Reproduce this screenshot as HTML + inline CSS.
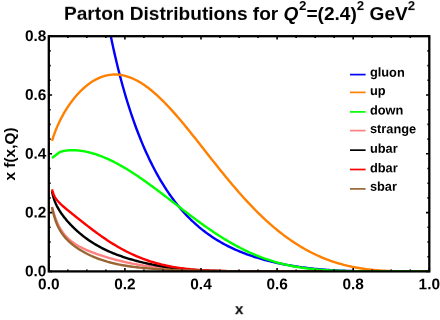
<!DOCTYPE html>
<html><head><meta charset="utf-8"><style>html,body{margin:0;padding:0;background:#fff;width:440px;height:320px;overflow:hidden}</style></head><body><svg width="440" height="320" viewBox="0 0 440 320" style="position:absolute;left:0;top:0">
<defs><clipPath id="c"><rect x="48.8" y="36.2" width="380.50" height="235.90"/></clipPath></defs>
<rect width="440" height="320" fill="#fff"/>
<g clip-path="url(#c)" fill="none" stroke-width="2.4" stroke-linejoin="round" stroke-linecap="butt">
<path d="M84.65,-199.67 L85.09,-191.93 L85.53,-184.45 L85.97,-177.23 L86.41,-170.24 L86.85,-163.49 L88.41,-141.21 L89.97,-121.19 L91.54,-103.08 L93.10,-86.59 L94.66,-71.47 L96.22,-57.55 L97.78,-44.65 L99.35,-32.65 L100.91,-21.45 L102.47,-10.93 L104.03,-1.04 L105.59,8.30 L107.16,17.14 L108.72,25.53 L110.28,33.52 L111.84,41.14 L113.40,48.42 L114.97,55.38 L116.53,62.06 L118.09,68.47 L119.65,74.63 L121.21,80.56 L122.78,86.27 L124.34,91.78 L125.90,97.10 L127.46,102.24 L129.02,107.20 L130.58,112.00 L132.15,116.64 L133.71,121.14 L135.27,125.49 L136.83,129.71 L138.39,133.80 L139.96,137.76 L141.52,141.61 L143.08,145.34 L144.64,148.95 L146.20,152.46 L147.77,155.87 L149.33,159.18 L150.89,162.39 L152.45,165.51 L154.01,168.54 L155.58,171.48 L157.14,174.34 L158.70,177.11 L160.26,179.81 L161.82,182.43 L163.39,184.97 L164.95,187.44 L166.51,189.84 L168.07,192.18 L169.63,194.45 L171.20,196.65 L172.76,198.79 L174.32,200.88 L175.88,202.90 L177.44,204.87 L179.01,206.78 L180.57,208.64 L182.13,210.44 L183.69,212.20 L185.25,213.90 L186.82,215.56 L188.38,217.18 L189.94,218.75 L191.50,220.27 L193.06,221.75 L194.63,223.19 L196.19,224.60 L197.75,225.96 L199.31,227.29 L200.87,228.57 L202.44,229.83 L204.00,231.05 L205.56,232.23 L207.12,233.39 L208.68,234.51 L210.24,235.60 L211.81,236.66 L213.37,237.70 L214.93,238.70 L216.49,239.68 L218.05,240.63 L219.62,241.56 L221.18,242.46 L222.74,243.34 L224.30,244.19 L225.86,245.02 L227.43,245.83 L228.99,246.62 L230.55,247.38 L232.11,248.13 L233.67,248.86 L235.24,249.56 L236.80,250.25 L238.36,250.92 L239.92,251.58 L241.48,252.21 L243.05,252.83 L244.61,253.43 L246.17,254.02 L247.73,254.59 L249.29,255.15 L250.86,255.69 L252.42,256.22 L253.98,256.74 L255.54,257.24 L257.10,257.73 L258.67,258.20 L260.23,258.66 L261.79,259.11 L263.35,259.55 L264.91,259.98 L266.48,260.40 L268.04,260.80 L269.60,261.20 L271.16,261.58 L272.72,261.95 L274.29,262.32 L275.85,262.67 L277.41,263.01 L278.97,263.35 L280.53,263.68 L282.10,263.99 L283.66,264.30 L285.22,264.60 L286.78,264.89 L288.34,265.17 L289.90,265.44 L291.47,265.71 L293.03,265.97 L294.59,266.22 L296.15,266.46 L297.71,266.70 L299.28,266.92 L300.84,267.15 L302.40,267.36 L303.96,267.56 L305.52,267.76 L307.09,267.96 L308.65,268.14 L310.21,268.32 L311.77,268.50 L313.33,268.66 L314.90,268.82 L316.46,268.98 L318.02,269.12 L319.58,269.27 L321.14,269.40 L322.71,269.53 L324.27,269.66 L325.83,269.77 L327.39,269.89 L328.95,270.00 L330.52,270.10 L332.08,270.20 L333.64,270.29 L335.20,270.38 L336.76,270.46 L338.33,270.54 L339.89,270.61 L341.45,270.68 L343.01,270.75 L344.57,270.81 L346.14,270.86 L347.70,270.92 L349.26,270.96 L350.82,271.01 L352.38,271.05 L353.95,271.09 L355.51,271.12 L357.07,271.16 L358.63,271.19 L360.19,271.21 L361.76,271.24 L363.32,271.26 L364.88,271.28 L366.44,271.30 L368.00,271.31 L369.56,271.32 L371.13,271.34 L372.69,271.35 L374.25,271.36 L375.81,271.36 L377.37,271.37 L378.94,271.38 L380.50,271.38 L382.06,271.38 L383.62,271.39 L385.18,271.39 L386.75,271.39 L388.31,271.39 L389.87,271.40 L391.43,271.40 L392.99,271.40 L394.56,271.40 L396.12,271.40 L397.68,271.40 L399.24,271.40 L400.80,271.40 L402.37,271.40 L403.93,271.40 L405.49,271.40 L407.05,271.40 L408.61,271.40 L410.18,271.40 L411.74,271.40 L413.30,271.40 L414.86,271.40 L416.42,271.40 L417.99,271.40 L419.55,271.40 L421.11,271.40 L422.67,271.40 L424.23,271.40 L425.80,271.40 L427.36,271.40 L428.92,271.40 L429.30,271.40" stroke="#0000ff"/>
<path d="M52.03,140.79 L52.47,139.39 L52.92,138.03 L53.36,136.71 L53.80,135.43 L54.24,134.18 L54.68,132.98 L55.12,131.80 L55.56,130.66 L56.00,129.55 L56.44,128.47 L56.88,127.41 L57.32,126.38 L57.76,125.37 L58.20,124.39 L58.64,123.42 L59.09,122.48 L59.53,121.56 L59.97,120.65 L60.41,119.76 L60.85,118.89 L61.29,118.03 L61.73,117.19 L62.17,116.37 L62.61,115.56 L63.05,114.76 L63.49,113.98 L63.93,113.21 L64.37,112.45 L64.81,111.70 L65.26,110.97 L65.70,110.25 L66.14,109.54 L66.58,108.84 L67.02,108.15 L67.46,107.47 L67.90,106.80 L68.34,106.14 L68.78,105.49 L69.22,104.85 L69.66,104.22 L70.10,103.59 L70.54,102.98 L70.98,102.37 L71.43,101.78 L71.87,101.19 L72.31,100.61 L72.75,100.04 L73.19,99.47 L73.63,98.92 L74.07,98.37 L74.51,97.83 L74.95,97.29 L75.39,96.77 L75.83,96.25 L76.27,95.74 L76.71,95.24 L77.15,94.74 L77.60,94.25 L78.04,93.77 L78.48,93.29 L78.92,92.82 L79.36,92.36 L79.80,91.90 L80.24,91.45 L80.68,91.01 L81.12,90.57 L81.56,90.14 L82.00,89.72 L82.44,89.30 L82.88,88.89 L83.32,88.49 L83.77,88.09 L84.21,87.70 L84.65,87.31 L85.09,86.94 L85.53,86.56 L85.97,86.20 L86.41,85.83 L86.85,85.48 L88.41,84.27 L89.97,83.13 L91.54,82.07 L93.10,81.08 L94.66,80.17 L96.22,79.32 L97.78,78.55 L99.35,77.84 L100.91,77.21 L102.47,76.64 L104.03,76.14 L105.59,75.71 L107.16,75.35 L108.72,75.05 L110.28,74.82 L111.84,74.66 L113.40,74.56 L114.97,74.53 L116.53,74.56 L118.09,74.66 L119.65,74.81 L121.21,75.03 L122.78,75.32 L124.34,75.66 L125.90,76.06 L127.46,76.53 L129.02,77.05 L130.58,77.63 L132.15,78.27 L133.71,78.96 L135.27,79.71 L136.83,80.51 L138.39,81.37 L139.96,82.27 L141.52,83.23 L143.08,84.24 L144.64,85.30 L146.20,86.41 L147.77,87.56 L149.33,88.76 L150.89,90.00 L152.45,91.29 L154.01,92.61 L155.58,93.98 L157.14,95.39 L158.70,96.84 L160.26,98.32 L161.82,99.84 L163.39,101.39 L164.95,102.97 L166.51,104.59 L168.07,106.24 L169.63,107.91 L171.20,109.62 L172.76,111.35 L174.32,113.10 L175.88,114.88 L177.44,116.68 L179.01,118.50 L180.57,120.35 L182.13,122.21 L183.69,124.08 L185.25,125.98 L186.82,127.88 L188.38,129.80 L189.94,131.74 L191.50,133.68 L193.06,135.63 L194.63,137.59 L196.19,139.56 L197.75,141.53 L199.31,143.51 L200.87,145.50 L202.44,147.48 L204.00,149.47 L205.56,151.46 L207.12,153.44 L208.68,155.43 L210.24,157.41 L211.81,159.39 L213.37,161.37 L214.93,163.34 L216.49,165.30 L218.05,167.25 L219.62,169.20 L221.18,171.14 L222.74,173.07 L224.30,174.99 L225.86,176.90 L227.43,178.79 L228.99,180.68 L230.55,182.55 L232.11,184.41 L233.67,186.25 L235.24,188.07 L236.80,189.89 L238.36,191.68 L239.92,193.46 L241.48,195.22 L243.05,196.97 L244.61,198.69 L246.17,200.40 L247.73,202.09 L249.29,203.76 L250.86,205.41 L252.42,207.03 L253.98,208.64 L255.54,210.23 L257.10,211.80 L258.67,213.35 L260.23,214.87 L261.79,216.38 L263.35,217.86 L264.91,219.32 L266.48,220.76 L268.04,222.18 L269.60,223.57 L271.16,224.94 L272.72,226.29 L274.29,227.62 L275.85,228.92 L277.41,230.20 L278.97,231.46 L280.53,232.70 L282.10,233.91 L283.66,235.11 L285.22,236.27 L286.78,237.42 L288.34,238.54 L289.90,239.64 L291.47,240.72 L293.03,241.78 L294.59,242.81 L296.15,243.83 L297.71,244.82 L299.28,245.78 L300.84,246.73 L302.40,247.65 L303.96,248.56 L305.52,249.44 L307.09,250.30 L308.65,251.14 L310.21,251.96 L311.77,252.75 L313.33,253.53 L314.90,254.29 L316.46,255.02 L318.02,255.74 L319.58,256.44 L321.14,257.11 L322.71,257.77 L324.27,258.41 L325.83,259.03 L327.39,259.63 L328.95,260.21 L330.52,260.77 L332.08,261.32 L333.64,261.84 L335.20,262.35 L336.76,262.84 L338.33,263.32 L339.89,263.77 L341.45,264.21 L343.01,264.64 L344.57,265.04 L346.14,265.44 L347.70,265.81 L349.26,266.17 L350.82,266.51 L352.38,266.84 L353.95,267.16 L355.51,267.46 L357.07,267.75 L358.63,268.02 L360.19,268.28 L361.76,268.52 L363.32,268.75 L364.88,268.97 L366.44,269.18 L368.00,269.37 L369.56,269.56 L371.13,269.73 L372.69,269.89 L374.25,270.04 L375.81,270.18 L377.37,270.31 L378.94,270.43 L380.50,270.54 L382.06,270.64 L383.62,270.73 L385.18,270.82 L386.75,270.90 L388.31,270.97 L389.87,271.03 L391.43,271.08 L392.99,271.13 L394.56,271.18 L396.12,271.22 L397.68,271.25 L399.24,271.28 L400.80,271.30 L402.37,271.32 L403.93,271.34 L405.49,271.35 L407.05,271.37 L408.61,271.38 L410.18,271.38 L411.74,271.39 L413.30,271.39 L414.86,271.40 L416.42,271.40 L417.99,271.40 L419.55,271.40 L421.11,271.40 L422.67,271.40 L424.23,271.40 L425.80,271.40 L427.36,271.40 L428.92,271.40 L429.30,271.40" stroke="#ff8000"/>
<path d="M52.03,157.93 L59.53,152.22 L59.97,152.06 L60.41,151.91 L60.85,151.76 L61.29,151.63 L61.73,151.50 L62.17,151.38 L62.61,151.27 L63.05,151.16 L63.49,151.07 L63.93,150.97 L64.37,150.89 L64.81,150.81 L65.26,150.73 L65.70,150.66 L66.14,150.60 L66.58,150.54 L67.02,150.49 L67.46,150.44 L67.90,150.40 L68.34,150.36 L68.78,150.32 L69.22,150.29 L69.66,150.27 L70.10,150.24 L70.54,150.23 L70.98,150.21 L71.43,150.20 L71.87,150.19 L72.31,150.19 L72.75,150.19 L73.19,150.20 L73.63,150.21 L74.07,150.22 L74.51,150.23 L74.95,150.25 L75.39,150.27 L75.83,150.30 L76.27,150.32 L76.71,150.36 L77.15,150.39 L77.60,150.43 L78.04,150.47 L78.48,150.51 L78.92,150.56 L79.36,150.61 L79.80,150.66 L80.24,150.71 L80.68,150.77 L81.12,150.83 L81.56,150.90 L82.00,150.96 L82.44,151.03 L82.88,151.10 L83.32,151.18 L83.77,151.26 L84.21,151.34 L84.65,151.42 L85.09,151.50 L85.53,151.59 L85.97,151.68 L86.41,151.77 L86.85,151.87 L88.41,152.23 L89.97,152.62 L91.54,153.04 L93.10,153.48 L94.66,153.96 L96.22,154.46 L97.78,154.99 L99.35,155.55 L100.91,156.14 L102.47,156.74 L104.03,157.38 L105.59,158.04 L107.16,158.72 L108.72,159.43 L110.28,160.15 L111.84,160.91 L113.40,161.68 L114.97,162.47 L116.53,163.29 L118.09,164.12 L119.65,164.98 L121.21,165.85 L122.78,166.75 L124.34,167.66 L125.90,168.59 L127.46,169.53 L129.02,170.49 L130.58,171.47 L132.15,172.47 L133.71,173.48 L135.27,174.50 L136.83,175.54 L138.39,176.59 L139.96,177.65 L141.52,178.73 L143.08,179.82 L144.64,180.92 L146.20,182.03 L147.77,183.15 L149.33,184.28 L150.89,185.41 L152.45,186.56 L154.01,187.72 L155.58,188.88 L157.14,190.05 L158.70,191.22 L160.26,192.40 L161.82,193.58 L163.39,194.77 L164.95,195.97 L166.51,197.16 L168.07,198.36 L169.63,199.56 L171.20,200.76 L172.76,201.97 L174.32,203.17 L175.88,204.38 L177.44,205.58 L179.01,206.78 L180.57,207.98 L182.13,209.18 L183.69,210.37 L185.25,211.57 L186.82,212.75 L188.38,213.94 L189.94,215.12 L191.50,216.29 L193.06,217.46 L194.63,218.62 L196.19,219.77 L197.75,220.92 L199.31,222.06 L200.87,223.19 L202.44,224.31 L204.00,225.42 L205.56,226.53 L207.12,227.62 L208.68,228.71 L210.24,229.78 L211.81,230.84 L213.37,231.89 L214.93,232.93 L216.49,233.96 L218.05,234.98 L219.62,235.98 L221.18,236.97 L222.74,237.95 L224.30,238.91 L225.86,239.86 L227.43,240.79 L228.99,241.71 L230.55,242.62 L232.11,243.51 L233.67,244.39 L235.24,245.25 L236.80,246.10 L238.36,246.93 L239.92,247.75 L241.48,248.55 L243.05,249.33 L244.61,250.10 L246.17,250.85 L247.73,251.59 L249.29,252.31 L250.86,253.02 L252.42,253.71 L253.98,254.38 L255.54,255.04 L257.10,255.68 L258.67,256.30 L260.23,256.91 L261.79,257.50 L263.35,258.08 L264.91,258.64 L266.48,259.19 L268.04,259.72 L269.60,260.23 L271.16,260.73 L272.72,261.22 L274.29,261.69 L275.85,262.14 L277.41,262.58 L278.97,263.01 L280.53,263.42 L282.10,263.82 L283.66,264.20 L285.22,264.57 L286.78,264.92 L288.34,265.27 L289.90,265.60 L291.47,265.91 L293.03,266.22 L294.59,266.51 L296.15,266.79 L297.71,267.06 L299.28,267.31 L300.84,267.56 L302.40,267.79 L303.96,268.02 L305.52,268.23 L307.09,268.43 L308.65,268.63 L310.21,268.81 L311.77,268.98 L313.33,269.15 L314.90,269.31 L316.46,269.45 L318.02,269.60 L319.58,269.73 L321.14,269.85 L322.71,269.97 L324.27,270.08 L325.83,270.19 L327.39,270.28 L328.95,270.37 L330.52,270.46 L332.08,270.54 L333.64,270.61 L335.20,270.68 L336.76,270.75 L338.33,270.81 L339.89,270.86 L341.45,270.91 L343.01,270.96 L344.57,271.01 L346.14,271.05 L347.70,271.08 L349.26,271.12 L350.82,271.15 L352.38,271.17 L353.95,271.20 L355.51,271.22 L357.07,271.24 L358.63,271.26 L360.19,271.28 L361.76,271.30 L363.32,271.31 L364.88,271.32 L366.44,271.33 L368.00,271.34 L369.56,271.35 L371.13,271.36 L372.69,271.36 L374.25,271.37 L375.81,271.37 L377.37,271.38 L378.94,271.38 L380.50,271.39 L382.06,271.39 L383.62,271.39 L385.18,271.39 L386.75,271.39 L388.31,271.40 L389.87,271.40 L391.43,271.40 L392.99,271.40 L394.56,271.40 L396.12,271.40 L397.68,271.40 L399.24,271.40 L400.80,271.40 L402.37,271.40 L403.93,271.40 L405.49,271.40 L407.05,271.40 L408.61,271.40 L410.18,271.40 L411.74,271.40 L413.30,271.40 L414.86,271.40 L416.42,271.40 L417.99,271.40 L419.55,271.40 L421.11,271.40 L422.67,271.40 L424.23,271.40 L425.80,271.40 L427.36,271.40 L428.92,271.40 L429.30,271.40" stroke="#00ff00"/>
<path d="M52.03,207.79 L52.47,209.17 L52.92,210.59 L53.36,212.00 L53.80,213.38 L54.24,214.73 L54.68,216.03 L55.12,217.28 L55.56,218.48 L56.00,219.63 L56.44,220.73 L56.88,221.79 L57.32,222.80 L57.76,223.77 L58.20,224.70 L58.64,225.59 L59.09,226.44 L59.53,227.26 L59.97,228.05 L60.41,228.80 L60.85,229.53 L61.29,230.23 L61.73,230.90 L62.17,231.55 L62.61,232.17 L63.05,232.78 L63.49,233.36 L63.93,233.92 L64.37,234.47 L64.81,235.00 L65.26,235.51 L65.70,236.00 L66.14,236.48 L66.58,236.95 L67.02,237.40 L67.46,237.84 L67.90,238.27 L68.34,238.68 L68.78,239.09 L69.22,239.48 L69.66,239.86 L70.10,240.24 L70.54,240.60 L70.98,240.96 L71.43,241.31 L71.87,241.65 L72.31,241.98 L72.75,242.30 L73.19,242.62 L73.63,242.93 L74.07,243.23 L74.51,243.53 L74.95,243.82 L75.39,244.11 L75.83,244.39 L76.27,244.67 L76.71,244.94 L77.15,245.20 L77.60,245.47 L78.04,245.72 L78.48,245.98 L78.92,246.22 L79.36,246.47 L79.80,246.71 L80.24,246.94 L80.68,247.18 L81.12,247.41 L81.56,247.63 L82.00,247.86 L82.44,248.08 L82.88,248.29 L83.32,248.51 L83.77,248.72 L84.21,248.93 L84.65,249.13 L85.09,249.33 L85.53,249.54 L85.97,249.73 L86.41,249.93 L86.85,250.12 L88.41,250.79 L89.97,251.44 L91.54,252.06 L93.10,252.66 L94.66,253.24 L96.22,253.81 L97.78,254.36 L99.35,254.89 L100.91,255.41 L102.47,255.92 L104.03,256.41 L105.59,256.89 L107.16,257.37 L108.72,257.83 L110.28,258.28 L111.84,258.71 L113.40,259.14 L114.97,259.56 L116.53,259.97 L118.09,260.37 L119.65,260.76 L121.21,261.14 L122.78,261.52 L124.34,261.88 L125.90,262.23 L127.46,262.58 L129.02,262.92 L130.58,263.24 L132.15,263.56 L133.71,263.87 L135.27,264.17 L136.83,264.47 L138.39,264.75 L139.96,265.03 L141.52,265.29 L143.08,265.55 L144.64,265.81 L146.20,266.05 L147.77,266.28 L149.33,266.51 L150.89,266.73 L152.45,266.94 L154.01,267.15 L155.58,267.35 L157.14,267.54 L158.70,267.72 L160.26,267.90 L161.82,268.07 L163.39,268.23 L164.95,268.38 L166.51,268.53 L168.07,268.68 L169.63,268.82 L171.20,268.95 L172.76,269.08 L174.32,269.20 L175.88,269.31 L177.44,269.42 L179.01,269.53 L180.57,269.63 L182.13,269.73 L183.69,269.82 L185.25,269.90 L186.82,269.99 L188.38,270.07 L189.94,270.14 L191.50,270.21 L193.06,270.28 L194.63,270.35 L196.19,270.41 L197.75,270.46 L199.31,270.52 L200.87,270.57 L202.44,270.62 L204.00,270.67 L205.56,270.71 L207.12,270.75 L208.68,270.79 L210.24,270.83 L211.81,270.86 L213.37,270.90 L214.93,270.93 L216.49,270.96 L218.05,270.99 L219.62,271.01 L221.18,271.04 L222.74,271.06 L224.30,271.08 L225.86,271.10 L227.43,271.12 L228.99,271.14 L230.55,271.16 L232.11,271.17 L233.67,271.19 L235.24,271.20 L236.80,271.21 L238.36,271.23 L239.92,271.24 L241.48,271.25 L243.05,271.26 L244.61,271.27 L246.17,271.28 L247.73,271.29 L249.29,271.29 L250.86,271.30 L252.42,271.31 L253.98,271.31 L255.54,271.32 L257.10,271.33 L258.67,271.33 L260.23,271.34 L261.79,271.34 L263.35,271.34 L264.91,271.35 L266.48,271.35 L268.04,271.35 L269.60,271.36 L271.16,271.36 L272.72,271.36 L274.29,271.37 L275.85,271.37 L277.41,271.37 L278.97,271.37 L280.53,271.37 L282.10,271.38 L283.66,271.38 L285.22,271.38 L286.78,271.38 L288.34,271.38 L289.90,271.38 L291.47,271.39 L293.03,271.39 L294.59,271.39 L296.15,271.39 L297.71,271.39 L299.28,271.39 L300.84,271.39 L302.40,271.39 L303.96,271.39 L305.52,271.39 L307.09,271.39 L308.65,271.39 L310.21,271.39 L311.77,271.39 L313.33,271.39 L314.90,271.40 L316.46,271.40 L318.02,271.40 L319.58,271.40 L321.14,271.40 L322.71,271.40" stroke="#ff8080"/>
<path d="M52.03,191.20 L52.47,193.37 L52.92,195.25 L53.36,196.91 L53.80,198.39 L54.24,199.73 L54.68,200.96 L55.12,202.10 L55.56,203.16 L56.00,204.16 L56.44,205.10 L56.88,206.00 L57.32,206.85 L57.76,207.67 L58.20,208.45 L58.64,209.21 L59.09,209.95 L59.53,210.66 L59.97,211.35 L60.41,212.02 L60.85,212.68 L61.29,213.32 L61.73,213.95 L62.17,214.56 L62.61,215.16 L63.05,215.76 L63.49,216.34 L63.93,216.91 L64.37,217.47 L64.81,218.02 L65.26,218.57 L65.70,219.10 L66.14,219.63 L66.58,220.16 L67.02,220.67 L67.46,221.18 L67.90,221.68 L68.34,222.18 L68.78,222.67 L69.22,223.15 L69.66,223.63 L70.10,224.10 L70.54,224.57 L70.98,225.03 L71.43,225.49 L71.87,225.94 L72.31,226.39 L72.75,226.83 L73.19,227.27 L73.63,227.70 L74.07,228.13 L74.51,228.56 L74.95,228.98 L75.39,229.39 L75.83,229.80 L76.27,230.21 L76.71,230.61 L77.15,231.01 L77.60,231.40 L78.04,231.79 L78.48,232.18 L78.92,232.56 L79.36,232.94 L79.80,233.31 L80.24,233.69 L80.68,234.05 L81.12,234.42 L81.56,234.78 L82.00,235.13 L82.44,235.48 L82.88,235.83 L83.32,236.18 L83.77,236.52 L84.21,236.86 L84.65,237.19 L85.09,237.53 L85.53,237.85 L85.97,238.18 L86.41,238.50 L86.85,238.82 L88.41,239.92 L89.97,240.99 L91.54,242.02 L93.10,243.01 L94.66,243.97 L96.22,244.90 L97.78,245.80 L99.35,246.66 L100.91,247.50 L102.47,248.31 L104.03,249.09 L105.59,249.85 L107.16,250.58 L108.72,251.29 L110.28,251.98 L111.84,252.65 L113.40,253.29 L114.97,253.92 L116.53,254.52 L118.09,255.11 L119.65,255.68 L121.21,256.24 L122.78,256.78 L124.34,257.30 L125.90,257.81 L127.46,258.30 L129.02,258.78 L130.58,259.25 L132.15,259.71 L133.71,260.15 L135.27,260.58 L136.83,261.00 L138.39,261.40 L139.96,261.80 L141.52,262.18 L143.08,262.56 L144.64,262.92 L146.20,263.28 L147.77,263.62 L149.33,263.96 L150.89,264.28 L152.45,264.60 L154.01,264.91 L155.58,265.21 L157.14,265.50 L158.70,265.78 L160.26,266.05 L161.82,266.32 L163.39,266.57 L164.95,266.82 L166.51,267.06 L168.07,267.29 L169.63,267.51 L171.20,267.73 L172.76,267.94 L174.32,268.13 L175.88,268.33 L177.44,268.51 L179.01,268.69 L180.57,268.86 L182.13,269.02 L183.69,269.17 L185.25,269.32 L186.82,269.46 L188.38,269.60 L189.94,269.72 L191.50,269.84 L193.06,269.96 L194.63,270.07 L196.19,270.17 L197.75,270.26 L199.31,270.36 L200.87,270.44 L202.44,270.52 L204.00,270.60 L205.56,270.66 L207.12,270.73 L208.68,270.79 L210.24,270.85 L211.81,270.90 L213.37,270.95 L214.93,270.99 L216.49,271.03 L218.05,271.07 L219.62,271.10 L221.18,271.14 L222.74,271.16 L224.30,271.19 L225.86,271.21 L227.43,271.23 L228.99,271.25 L230.55,271.27 L232.11,271.29 L233.67,271.30 L235.24,271.31 L236.80,271.32 L238.36,271.33 L239.92,271.34 L241.48,271.35 L243.05,271.36 L244.61,271.36 L246.17,271.37 L247.73,271.37 L249.29,271.38 L250.86,271.38 L252.42,271.38 L253.98,271.39 L255.54,271.39 L257.10,271.39 L258.67,271.39 L260.23,271.39 L261.79,271.39 L263.35,271.40 L264.91,271.40 L266.48,271.40 L268.04,271.40 L269.60,271.40 L271.16,271.40 L272.72,271.40 L274.29,271.40 L275.85,271.40 L277.41,271.40 L278.97,271.40 L280.53,271.40 L282.10,271.40 L283.66,271.40 L285.22,271.40 L286.78,271.40 L288.34,271.40 L289.90,271.40 L291.47,271.40 L293.03,271.40 L294.59,271.40 L296.15,271.40 L297.71,271.40 L299.28,271.40 L300.84,271.40 L302.40,271.40 L303.96,271.40 L305.52,271.40 L307.09,271.40 L308.65,271.40 L310.21,271.40 L311.77,271.40 L313.33,271.40 L314.90,271.40 L316.46,271.40 L318.02,271.40 L319.58,271.40 L321.14,271.40 L322.71,271.40" stroke="#000000"/>
<path d="M52.03,189.34 L52.47,191.04 L52.92,192.48 L53.36,193.71 L53.80,194.79 L54.24,195.74 L54.68,196.60 L55.12,197.38 L55.56,198.10 L56.00,198.77 L56.44,199.39 L56.88,199.97 L57.32,200.53 L57.76,201.06 L58.20,201.56 L58.64,202.04 L59.09,202.51 L59.53,202.96 L59.97,203.40 L60.41,203.83 L60.85,204.25 L61.29,204.67 L61.73,205.07 L62.17,205.47 L62.61,205.86 L63.05,206.25 L63.49,206.63 L63.93,207.01 L64.37,207.39 L64.81,207.76 L65.26,208.13 L65.70,208.50 L66.14,208.86 L66.58,209.23 L67.02,209.59 L67.46,209.95 L67.90,210.31 L68.34,210.67 L68.78,211.03 L69.22,211.39 L69.66,211.74 L70.10,212.10 L70.54,212.46 L70.98,212.81 L71.43,213.17 L71.87,213.52 L72.31,213.88 L72.75,214.23 L73.19,214.58 L73.63,214.94 L74.07,215.29 L74.51,215.64 L74.95,216.00 L75.39,216.35 L75.83,216.70 L76.27,217.05 L76.71,217.40 L77.15,217.76 L77.60,218.11 L78.04,218.46 L78.48,218.81 L78.92,219.16 L79.36,219.51 L79.80,219.86 L80.24,220.21 L80.68,220.56 L81.12,220.91 L81.56,221.26 L82.00,221.60 L82.44,221.95 L82.88,222.30 L83.32,222.65 L83.77,222.99 L84.21,223.34 L84.65,223.68 L85.09,224.03 L85.53,224.37 L85.97,224.71 L86.41,225.06 L86.85,225.40 L88.41,226.61 L89.97,227.81 L91.54,228.99 L93.10,230.17 L94.66,231.33 L96.22,232.49 L97.78,233.62 L99.35,234.75 L100.91,235.86 L102.47,236.95 L104.03,238.03 L105.59,239.09 L107.16,240.13 L108.72,241.16 L110.28,242.16 L111.84,243.15 L113.40,244.12 L114.97,245.08 L116.53,246.01 L118.09,246.92 L119.65,247.81 L121.21,248.69 L122.78,249.54 L124.34,250.37 L125.90,251.19 L127.46,251.98 L129.02,252.76 L130.58,253.51 L132.15,254.24 L133.71,254.96 L135.27,255.65 L136.83,256.32 L138.39,256.98 L139.96,257.61 L141.52,258.23 L143.08,258.82 L144.64,259.40 L146.20,259.96 L147.77,260.50 L149.33,261.02 L150.89,261.52 L152.45,262.01 L154.01,262.48 L155.58,262.93 L157.14,263.36 L158.70,263.78 L160.26,264.18 L161.82,264.57 L163.39,264.94 L164.95,265.29 L166.51,265.63 L168.07,265.96 L169.63,266.27 L171.20,266.57 L172.76,266.85 L174.32,267.12 L175.88,267.38 L177.44,267.63 L179.01,267.86 L180.57,268.08 L182.13,268.29 L183.69,268.50 L185.25,268.69 L186.82,268.87 L188.38,269.04 L189.94,269.20 L191.50,269.35 L193.06,269.49 L194.63,269.63 L196.19,269.75 L197.75,269.87 L199.31,269.99 L200.87,270.09 L202.44,270.19 L204.00,270.28 L205.56,270.37 L207.12,270.45 L208.68,270.53 L210.24,270.60 L211.81,270.66 L213.37,270.72 L214.93,270.78 L216.49,270.83 L218.05,270.88 L219.62,270.93 L221.18,270.97 L222.74,271.01 L224.30,271.04 L225.86,271.07 L227.43,271.10 L228.99,271.13 L230.55,271.16 L232.11,271.18 L233.67,271.20 L235.24,271.22 L236.80,271.24 L238.36,271.26 L239.92,271.27 L241.48,271.28 L243.05,271.30 L244.61,271.31 L246.17,271.32 L247.73,271.33 L249.29,271.33 L250.86,271.34 L252.42,271.35 L253.98,271.35 L255.54,271.36 L257.10,271.36 L258.67,271.37 L260.23,271.37 L261.79,271.38 L263.35,271.38 L264.91,271.38 L266.48,271.38 L268.04,271.39 L269.60,271.39 L271.16,271.39 L272.72,271.39 L274.29,271.39 L275.85,271.39 L277.41,271.39 L278.97,271.39 L280.53,271.40 L282.10,271.40 L283.66,271.40 L285.22,271.40 L286.78,271.40 L288.34,271.40 L289.90,271.40 L291.47,271.40 L293.03,271.40 L294.59,271.40 L296.15,271.40 L297.71,271.40 L299.28,271.40 L300.84,271.40 L302.40,271.40 L303.96,271.40 L305.52,271.40 L307.09,271.40 L308.65,271.40 L310.21,271.40 L311.77,271.40 L313.33,271.40 L314.90,271.40 L316.46,271.40 L318.02,271.40 L319.58,271.40 L321.14,271.40 L322.71,271.40" stroke="#ff0000"/>
<path d="M52.03,207.07 L52.47,209.17 L52.92,211.14 L53.36,212.98 L53.80,214.69 L54.24,216.30 L54.68,217.79 L55.12,219.19 L55.56,220.50 L56.00,221.73 L56.44,222.89 L56.88,223.99 L57.32,225.02 L57.76,226.01 L58.20,226.94 L58.64,227.83 L59.09,228.67 L59.53,229.48 L59.97,230.25 L60.41,231.00 L60.85,231.71 L61.29,232.39 L61.73,233.05 L62.17,233.69 L62.61,234.31 L63.05,234.90 L63.49,235.48 L63.93,236.04 L64.37,236.58 L64.81,237.11 L65.26,237.62 L65.70,238.12 L66.14,238.60 L66.58,239.08 L67.02,239.54 L67.46,239.99 L67.90,240.43 L68.34,240.86 L68.78,241.29 L69.22,241.70 L69.66,242.10 L70.10,242.50 L70.54,242.89 L70.98,243.27 L71.43,243.65 L71.87,244.02 L72.31,244.38 L72.75,244.73 L73.19,245.08 L73.63,245.43 L74.07,245.76 L74.51,246.10 L74.95,246.42 L75.39,246.75 L75.83,247.07 L76.27,247.38 L76.71,247.69 L77.15,247.99 L77.60,248.29 L78.04,248.59 L78.48,248.88 L78.92,249.16 L79.36,249.45 L79.80,249.73 L80.24,250.00 L80.68,250.27 L81.12,250.54 L81.56,250.81 L82.00,251.07 L82.44,251.33 L82.88,251.58 L83.32,251.83 L83.77,252.08 L84.21,252.32 L84.65,252.57 L85.09,252.81 L85.53,253.04 L85.97,253.27 L86.41,253.50 L86.85,253.73 L88.41,254.51 L89.97,255.26 L91.54,255.98 L93.10,256.66 L94.66,257.32 L96.22,257.95 L97.78,258.55 L99.35,259.13 L100.91,259.68 L102.47,260.20 L104.03,260.70 L105.59,261.18 L107.16,261.64 L108.72,262.08 L110.28,262.50 L111.84,262.90 L113.40,263.28 L114.97,263.65 L116.53,264.00 L118.09,264.33 L119.65,264.65 L121.21,264.95 L122.78,265.24 L124.34,265.52 L125.90,265.78 L127.46,266.03 L129.02,266.27 L130.58,266.50 L132.15,266.72 L133.71,266.92 L135.27,267.12 L136.83,267.31 L138.39,267.49 L139.96,267.67 L141.52,267.83 L143.08,267.99 L144.64,268.14 L146.20,268.28 L147.77,268.42 L149.33,268.55 L150.89,268.67 L152.45,268.79 L154.01,268.91 L155.58,269.02 L157.14,269.12 L158.70,269.22 L160.26,269.32 L161.82,269.41 L163.39,269.49 L164.95,269.58 L166.51,269.66 L168.07,269.74 L169.63,269.81 L171.20,269.88 L172.76,269.95 L174.32,270.01 L175.88,270.07 L177.44,270.13 L179.01,270.19 L180.57,270.24 L182.13,270.30 L183.69,270.35 L185.25,270.40 L186.82,270.44 L188.38,270.49 L189.94,270.53 L191.50,270.57 L193.06,270.61 L194.63,270.65 L196.19,270.69 L197.75,270.72 L199.31,270.75 L200.87,270.79 L202.44,270.82 L204.00,270.85 L205.56,270.88 L207.12,270.90 L208.68,270.93 L210.24,270.95 L211.81,270.98 L213.37,271.00 L214.93,271.02 L216.49,271.05 L218.05,271.07 L219.62,271.09 L221.18,271.10 L222.74,271.12 L224.30,271.14 L225.86,271.16 L227.43,271.17 L228.99,271.19 L230.55,271.20 L232.11,271.21 L233.67,271.23 L235.24,271.24 L236.80,271.25 L238.36,271.26 L239.92,271.27 L241.48,271.28 L243.05,271.29 L244.61,271.30 L246.17,271.31 L247.73,271.31 L249.29,271.32 L250.86,271.33 L252.42,271.33 L253.98,271.34 L255.54,271.35 L257.10,271.35 L258.67,271.36 L260.23,271.36 L261.79,271.36 L263.35,271.37 L264.91,271.37 L266.48,271.37 L268.04,271.38 L269.60,271.38 L271.16,271.38 L272.72,271.38 L274.29,271.39 L275.85,271.39 L277.41,271.39 L278.97,271.39 L280.53,271.39 L282.10,271.39 L283.66,271.39 L285.22,271.39 L286.78,271.40 L288.34,271.40 L289.90,271.40 L291.47,271.40 L293.03,271.40 L294.59,271.40 L296.15,271.40 L297.71,271.40 L299.28,271.40 L300.84,271.40 L302.40,271.40 L303.96,271.40 L305.52,271.40 L307.09,271.40 L308.65,271.40 L310.21,271.40 L311.77,271.40 L313.33,271.40 L314.90,271.40 L316.46,271.40 L318.02,271.40 L319.58,271.40 L321.14,271.40 L322.71,271.40" stroke="#996633"/>
</g>
<path d="M48.80,268.10V271.40M48.80,39.50V36.20M67.83,269.50V271.40M67.83,38.10V36.20M86.85,269.50V271.40M86.85,38.10V36.20M105.88,269.50V271.40M105.88,38.10V36.20M124.90,268.10V271.40M124.90,39.50V36.20M143.93,269.50V271.40M143.93,38.10V36.20M162.95,269.50V271.40M162.95,38.10V36.20M181.98,269.50V271.40M181.98,38.10V36.20M201.00,268.10V271.40M201.00,39.50V36.20M220.02,269.50V271.40M220.02,38.10V36.20M239.05,269.50V271.40M239.05,38.10V36.20M258.07,269.50V271.40M258.07,38.10V36.20M277.10,268.10V271.40M277.10,39.50V36.20M296.12,269.50V271.40M296.12,38.10V36.20M315.15,269.50V271.40M315.15,38.10V36.20M334.18,269.50V271.40M334.18,38.10V36.20M353.20,268.10V271.40M353.20,39.50V36.20M372.23,269.50V271.40M372.23,38.10V36.20M391.25,269.50V271.40M391.25,38.10V36.20M410.28,269.50V271.40M410.28,38.10V36.20M429.30,268.10V271.40M429.30,39.50V36.20M48.80,271.40H52.10M429.30,271.40H426.00M48.80,256.70H50.70M429.30,256.70H427.40M48.80,242.00H50.70M429.30,242.00H427.40M48.80,227.30H50.70M429.30,227.30H427.40M48.80,212.60H52.10M429.30,212.60H426.00M48.80,197.90H50.70M429.30,197.90H427.40M48.80,183.20H50.70M429.30,183.20H427.40M48.80,168.50H50.70M429.30,168.50H427.40M48.80,153.80H52.10M429.30,153.80H426.00M48.80,139.10H50.70M429.30,139.10H427.40M48.80,124.40H50.70M429.30,124.40H427.40M48.80,109.70H50.70M429.30,109.70H427.40M48.80,95.00H52.10M429.30,95.00H426.00M48.80,80.30H50.70M429.30,80.30H427.40M48.80,65.60H50.70M429.30,65.60H427.40M48.80,50.90H50.70M429.30,50.90H427.40M48.80,36.20H52.10M429.30,36.20H426.00" stroke="#000" stroke-width="1.6" fill="none"/>
<rect x="48.8" y="36.2" width="380.50" height="235.20" fill="none" stroke="#000" stroke-width="2.3"/>
<g font-family="Liberation Sans, sans-serif" font-weight="bold" fill="#000" style="will-change:transform;font-kerning:none">
<text transform="translate(48.8,289.2) rotate(0.1)" font-size="15.4" text-anchor="middle">0.0</text>
<text transform="translate(124.9,289.2) rotate(0.1)" font-size="15.4" text-anchor="middle">0.2</text>
<text transform="translate(201.0,289.2) rotate(0.1)" font-size="15.4" text-anchor="middle">0.4</text>
<text transform="translate(277.1,289.2) rotate(0.1)" font-size="15.4" text-anchor="middle">0.6</text>
<text transform="translate(353.2,289.2) rotate(0.1)" font-size="15.4" text-anchor="middle">0.8</text>
<text transform="translate(429.3,289.2) rotate(0.1)" font-size="15.4" text-anchor="middle">1.0</text>
<text transform="translate(46.4,276.3) rotate(0.1)" font-size="15.4" text-anchor="end">0.0</text>
<text transform="translate(46.4,217.5) rotate(0.1)" font-size="15.4" text-anchor="end">0.2</text>
<text transform="translate(46.4,158.7) rotate(0.1)" font-size="15.4" text-anchor="end">0.4</text>
<text transform="translate(46.4,99.9) rotate(0.1)" font-size="15.4" text-anchor="end">0.6</text>
<text transform="translate(46.4,41.1) rotate(0.1)" font-size="15.4" text-anchor="end">0.8</text>
<text transform="translate(239.2,314.2) rotate(0.1)" font-size="15.4" text-anchor="middle">x</text>
<text transform="translate(15.4,154) rotate(-90)" font-size="15.4" text-anchor="middle">x f(x,Q)</text>
<text transform="translate(64,19.8) rotate(0.05)" font-size="19.1">Parton Distributions for <tspan font-style="italic">Q</tspan><tspan font-size="13.3" dy="-10.2" dx="0.6">2</tspan><tspan dy="10.2">=(2.4)</tspan><tspan font-size="13.3" dy="-10.2">2</tspan><tspan dy="10.2"> GeV</tspan><tspan font-size="13.3" dy="-10.2">2</tspan></text>
<path d="M350,74.6H365.6" stroke="#0000ff" stroke-width="1.7"/>
<text transform="translate(369.9,76.6) rotate(0.1)" font-size="12.8">gluon</text>
<path d="M350,92.4H365.6" stroke="#ff8000" stroke-width="1.7"/>
<text transform="translate(369.9,94.9) rotate(0.1)" font-size="12.8">up</text>
<path d="M350,111.9H365.6" stroke="#00ff00" stroke-width="1.7"/>
<text transform="translate(369.9,114.5) rotate(0.1)" font-size="12.8">down</text>
<path d="M350,130.6H365.6" stroke="#ff8080" stroke-width="1.7"/>
<text transform="translate(369.9,133.1) rotate(0.1)" font-size="12.8">strange</text>
<path d="M350,150.15H365.6" stroke="#000000" stroke-width="1.7"/>
<text transform="translate(369.9,152.7) rotate(0.1)" font-size="12.8">ubar</text>
<path d="M350,169.5H365.6" stroke="#ff0000" stroke-width="1.7"/>
<text transform="translate(369.9,172.2) rotate(0.1)" font-size="12.8">dbar</text>
<path d="M350,188.9H365.6" stroke="#996633" stroke-width="1.7"/>
<text transform="translate(369.9,190.8) rotate(0.1)" font-size="12.8">sbar</text>
</g></svg></body></html>
